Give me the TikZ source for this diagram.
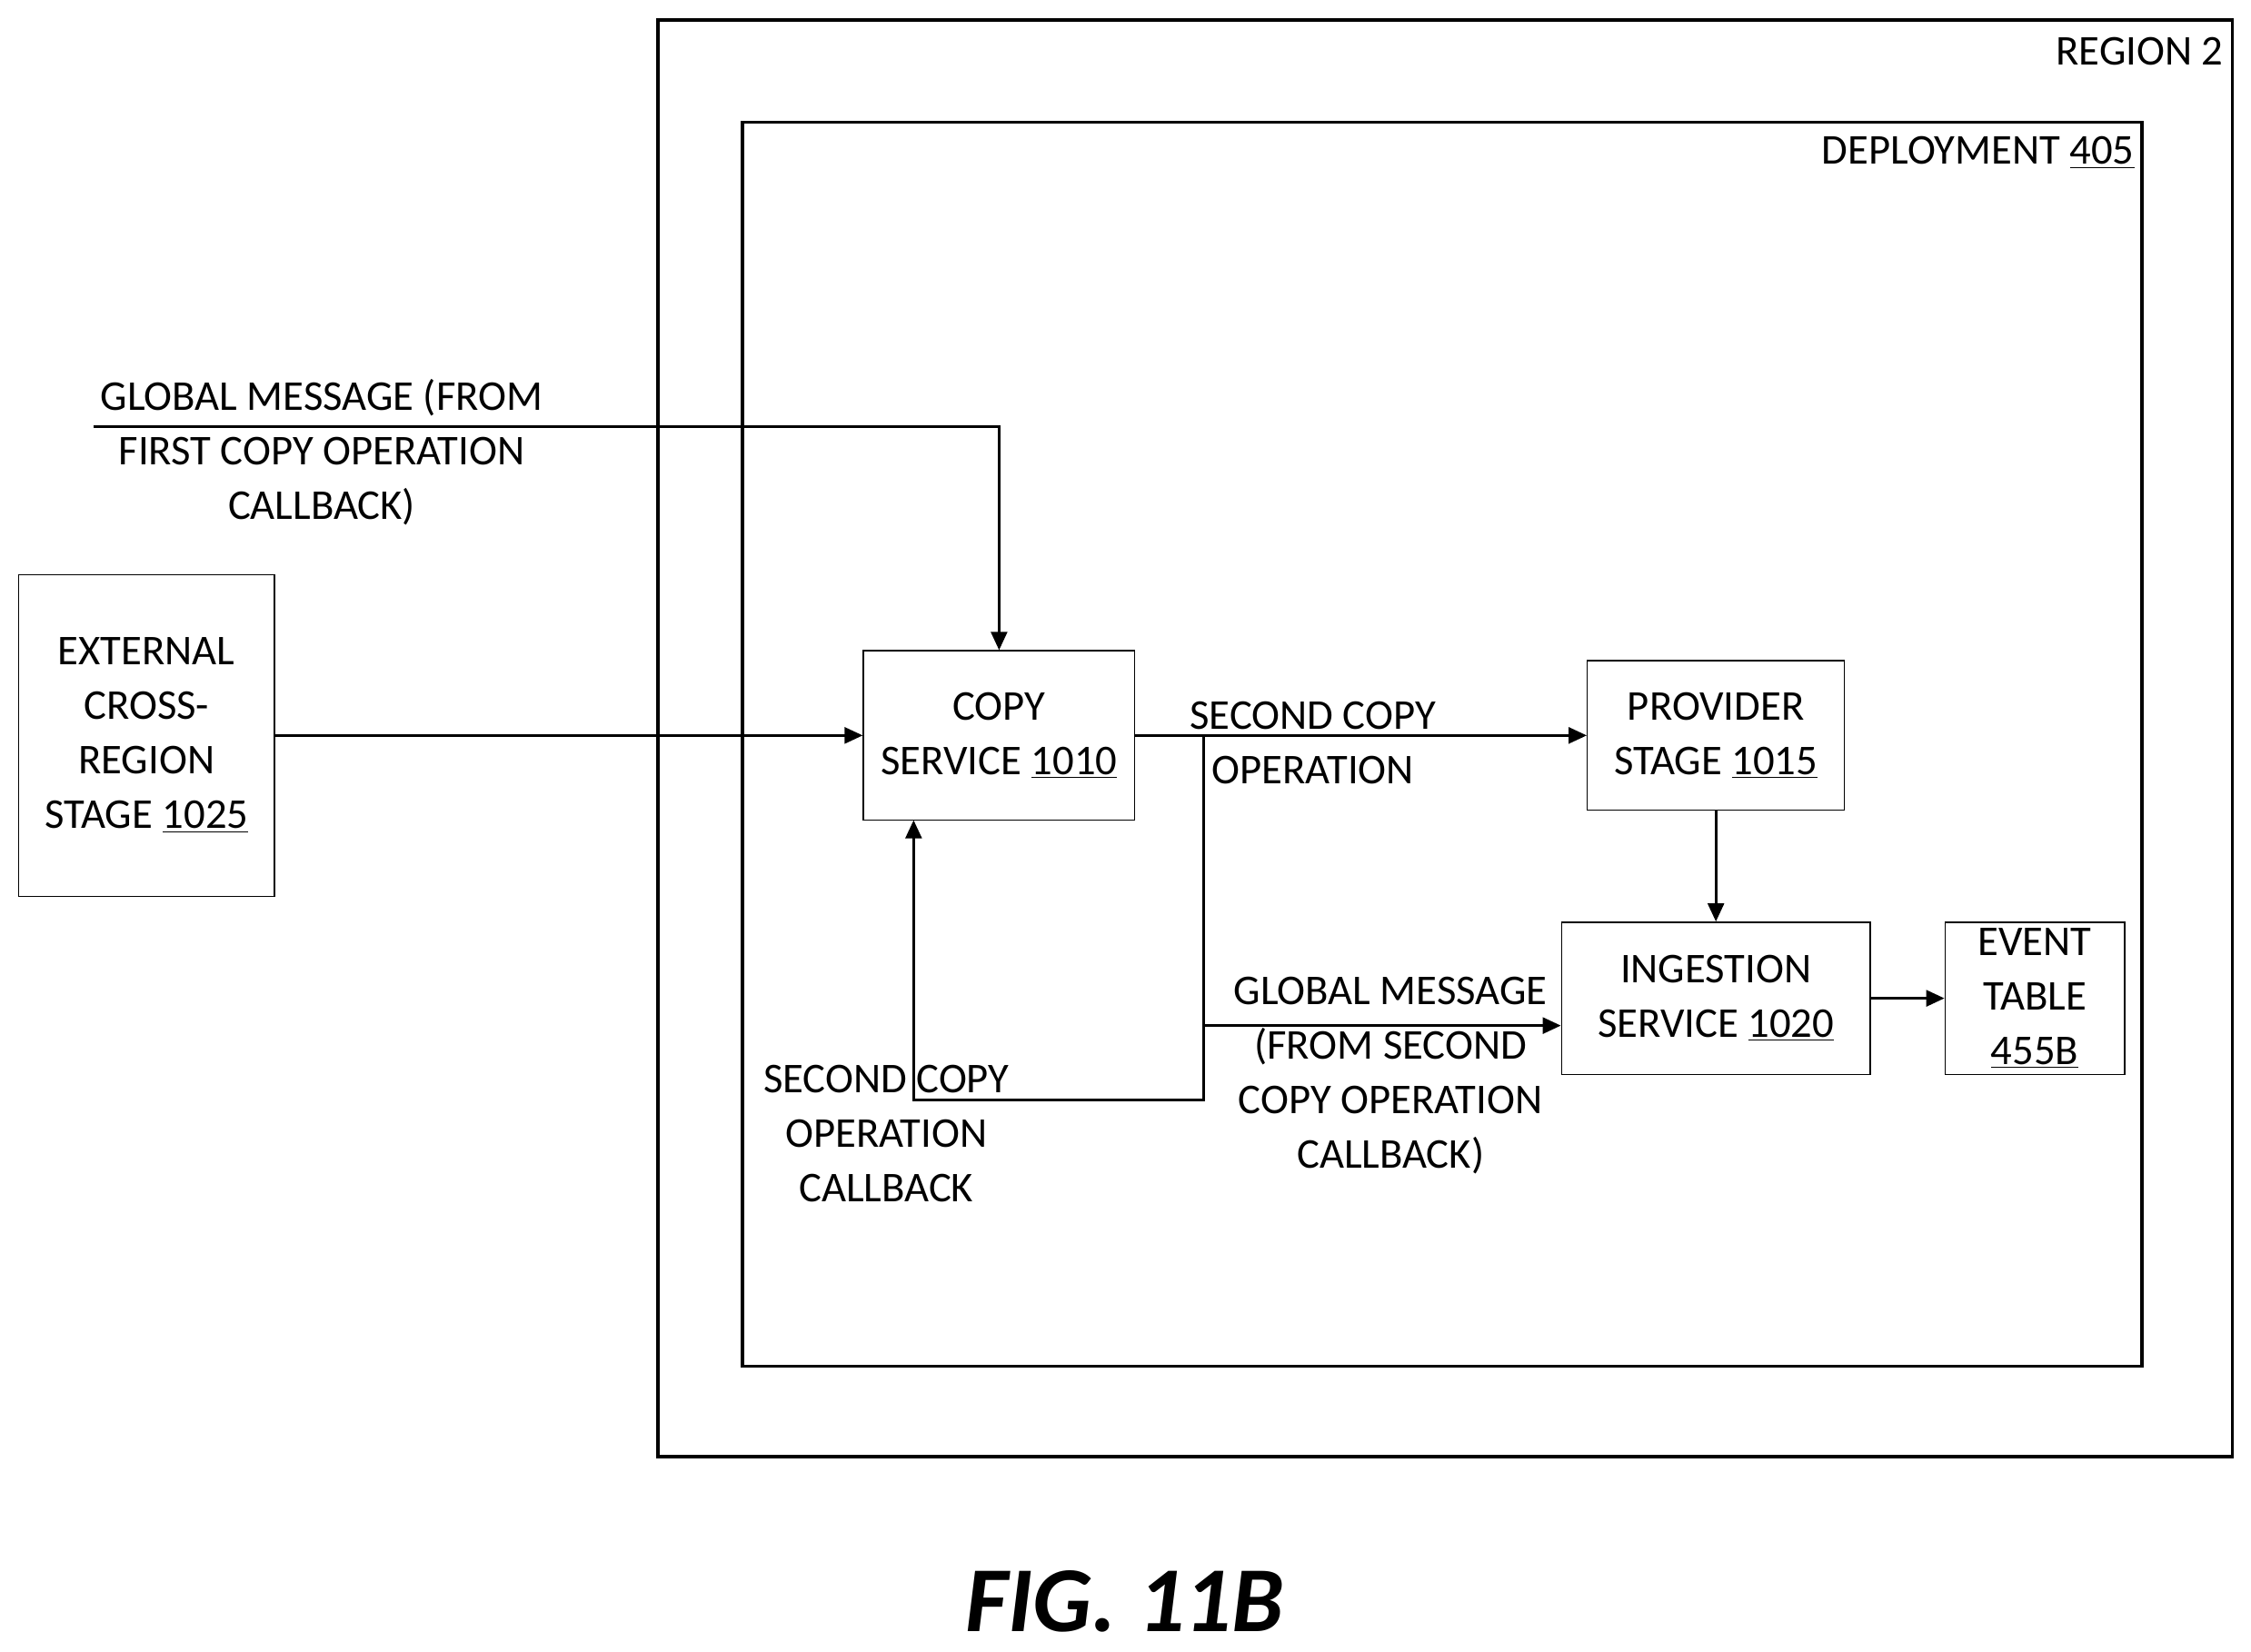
\documentclass[tikz,border=0pt]{standalone}
\usepackage{fontspec}
\setmainfont{Carlito}
\usetikzlibrary{arrows.meta}
\begin{document}
\begin{tikzpicture}[x=0.025cm,y=-0.025cm,
  every node/.style={font=\fontsize{21}{27}\selectfont,align=center,inner sep=0},
  box/.style={draw,line width=0.6pt},
  frame/.style={draw,line width=1.6pt},
  con/.style={line width=1.3pt},
  arr/.style={con,-{Triangle[length=9pt,width=8pt]}}]
\useasboundingbox (0,0) rectangle (1567,1150);
\draw[frame] (458,14) rectangle (1554,1014);
\node[anchor=north east] (rl) at (1548,26) {REGION 2};
\draw[frame] (517,85) rectangle (1491,951);
\node[anchor=north east] (dl) at (1486,95) {DEPLOYMENT \underline{405}};
\node[box,minimum width=178*0.025cm,minimum height=224*0.025cm] (ext) at (102,512) {EXTERNAL\\CROSS-\\REGION\\STAGE \underline{1025}};
\node[box,minimum width=189*0.025cm,minimum height=118*0.025cm] (copy) at (695.5,512) {COPY\\SERVICE \underline{1010}};
\node[box,minimum width=179*0.025cm,minimum height=104*0.025cm] (prov) at (1194.5,512) {PROVIDER\\STAGE \underline{1015}};
\node[box,minimum width=215*0.025cm,minimum height=106*0.025cm] (ing) at (1194.5,695) {INGESTION\\SERVICE \underline{1020}};
\node[box,minimum width=125*0.025cm,minimum height=106*0.025cm] (evt) at (1416.5,695) {EVENT\\TABLE\\\underline{455B}};
\coordinate (gs) at (65,297);
\node (gl) at (224,315) {GLOBAL MESSAGE (FROM\\FIRST COPY OPERATION\\CALLBACK)};
\draw[arr] (gs) -| (copy.north);
\draw[arr] (ext.east) -- (copy.west);
\draw[arr] (copy.east) -- (prov.west);
\node (sc) at (914,517) {SECOND COPY\\OPERATION};
\coordinate (br) at (838,513);
\coordinate (bl) at (838,766);
\coordinate (bm) at (838,714);
\draw[arr] (br) -- (bl) -| (636,571);
\draw[arr] (bm) -- (bm -| ing.west);
\node (cb) at (617,789) {SECOND COPY\\OPERATION\\CALLBACK};
\node (gm) at (968,749) {GLOBAL MESSAGE\\(FROM SECOND\\COPY OPERATION\\CALLBACK)};
\draw[arr] (prov.south) -- (ing.north);
\draw[arr] (ing.east) -- (evt.west);
\node[font=\fontsize{46}{50}\selectfont\bfseries\itshape] (fig) at (783,1115) {FIG. 11B};
\end{tikzpicture}
\end{document}
